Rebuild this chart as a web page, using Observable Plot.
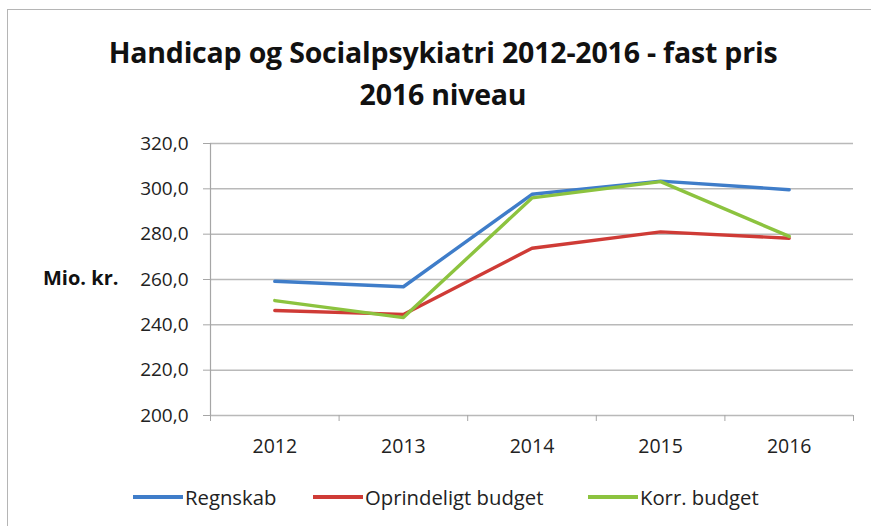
<!DOCTYPE html>
<html>
<head>
<meta charset="utf-8">
<script src="https://cdn.jsdelivr.net/npm/d3@7"></script>
<script src="https://cdn.jsdelivr.net/npm/@observablehq/plot@0.6"></script>
<style>
  html, body { margin: 0; padding: 0; background: #fff; }
  #wrap { position: relative; width: 871px; height: 526px; overflow: hidden; font-family: "Open Sans", Lato, sans-serif; color: #222; }
  #frame { position: absolute; left: 7px; top: 9px; width: 880px; height: 540px; border-left: 1px solid #b5b5b5; border-top: 1px solid #b5b5b5; }
  .title { position: absolute; left: 0; width: 886px; text-align: center; font-weight: bold; font-size: 28.5px; color: #111; letter-spacing: -0.2px; line-height: 1.2; }
  #ylab { position: absolute; left: 43px; top: 264px; font-weight: bold; font-size: 20px; color: #111; }
  #chart { position: absolute; left: 0; top: 120px; }
  #legend { position: absolute; top: 483px; left: 0; width: 871px; height: 28px; font-size: 20.3px; color: #222; }
  .item { position: absolute; top: 0; display: flex; align-items: center; height: 28px; }
  .sw { display: inline-block; width: 50px; height: 3.5px; margin-right: 2px; }
</style>
</head>
<body>
<div id="wrap">
  <div id="frame"></div>
  <div class="title" style="top:35px">Handicap og Socialpsykiatri 2012-2016 - fast pris</div>
  <div class="title" style="top:77px">2016 niveau</div>
  <div id="ylab">Mio. kr.</div>
  <div id="chart"></div>
  <div id="legend"></div>
</div>
<script>
const years = [2012, 2013, 2014, 2015, 2016];
const regnskab = [259.2, 256.8, 297.6, 303.4, 299.6];
const oprindeligtBudget = [246.3, 244.6, 273.8, 281.0, 278.2];
const korrBudget = [250.7, 243.2, 296.0, 303.2, 279.0];
const yTicks = [200, 220, 240, 260, 280, 300, 320];
const seriesNames = ["Regnskab", "Oprindeligt budget", "Korr. budget"];
const seriesColors = ["#3f7dc9", "#cf3b36", "#8cc33f"];

const seriesValues = [regnskab, oprindeligtBudget, korrBudget];
const rows = [];
seriesNames.forEach((name, i) => {
  years.forEach((yr, j) => rows.push({series: name, year: yr, value: seriesValues[i][j]}));
});
const boundaries = [...years.map(y => y - 0.5), years[years.length - 1] + 0.5];
const fmt = d => d3.format(".1f")(d).replace(".", ",");

const chart = Plot.plot({
  width: 871,
  height: 360,
  marginLeft: 210,
  marginRight: 18,
  marginTop: 23,
  marginBottom: 65,
  style: {fontFamily: "'Open Sans', Lato, sans-serif", color: "#222", background: "transparent"},
  x: {domain: [boundaries[0], boundaries[boundaries.length - 1]]},
  y: {domain: [200, 320]},
  color: {domain: seriesNames, range: seriesColors},
  marks: [
    Plot.gridY(yTicks, {stroke: "#b9b9b9", strokeOpacity: 1, strokeWidth: 1.5}),
    Plot.ruleX([boundaries[0]], {stroke: "#a6a6a6", strokeWidth: 1.2}),
    Plot.axisY(yTicks, {tickSize: 7, tickPadding: 15, tickFormat: fmt, fontSize: 19, stroke: "#a6a6a6", label: null}),
    Plot.axisX(boundaries, {tickSize: 6, tickFormat: () => "", stroke: "#a6a6a6", label: null}),
    Plot.axisX(years, {tickSize: 0, tickPadding: 24, tickFormat: d => String(d), fontSize: 19.5, label: null}),
    Plot.line(rows, {x: "year", y: "value", z: "series", stroke: "series", strokeWidth: 3.4})
  ]
});
document.getElementById("chart").appendChild(chart);

const legend = document.getElementById("legend");
const legendX = [133, 313, 588];
seriesNames.forEach((name, i) => {
  const item = document.createElement("div");
  item.className = "item";
  item.style.left = legendX[i] + "px";
  item.innerHTML = `<span class="sw" style="background:${seriesColors[i]}"></span><span>${name}</span>`;
  legend.appendChild(item);
});
</script>
</body>
</html>
